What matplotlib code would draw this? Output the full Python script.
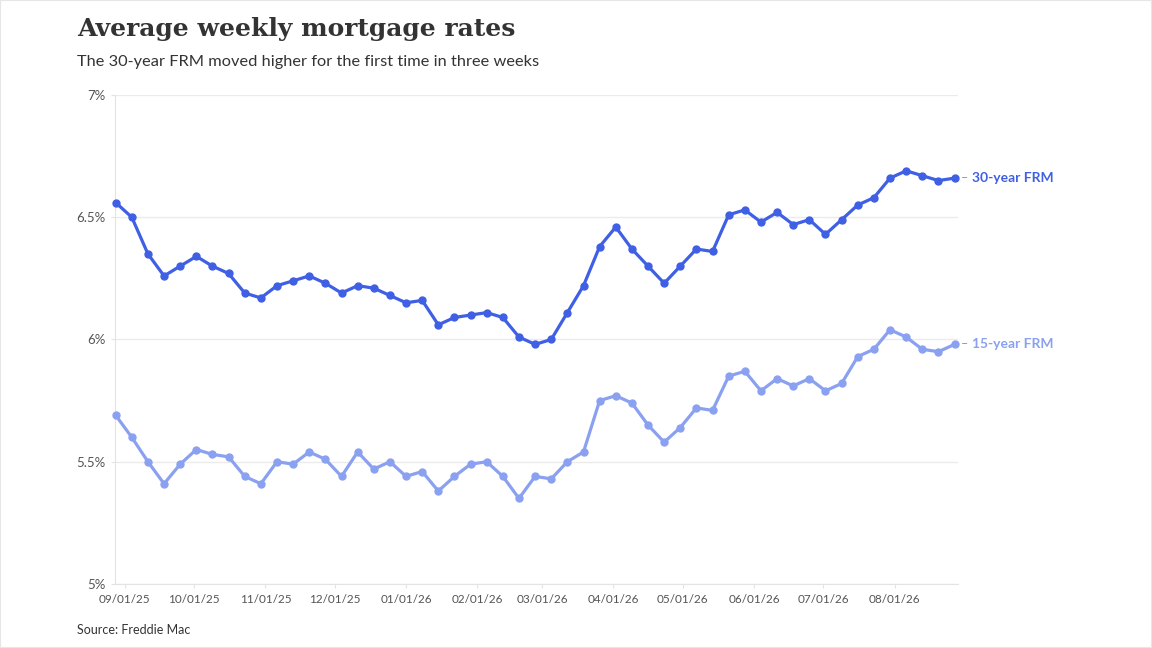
import matplotlib
matplotlib.use("Agg")
import matplotlib.pyplot as plt
import matplotlib.dates as mdates
from matplotlib.patches import Rectangle
import pandas as pd

plt.rcParams['font.family'] = ['Lato', 'DejaVu Sans']

# weekly Freddie Mac survey dates (Thursdays)
dates = pd.date_range("2025-08-28", periods=53, freq="7D")

rate_30 = [6.56, 6.50, 6.35, 6.26, 6.30, 6.34, 6.30, 6.27, 6.19, 6.17,
           6.22, 6.24, 6.26, 6.23, 6.19, 6.22, 6.21, 6.18, 6.15, 6.16,
           6.06, 6.09, 6.10, 6.11, 6.09, 6.01, 5.98, 6.00, 6.11, 6.22,
           6.38, 6.46, 6.37, 6.30, 6.23, 6.30, 6.37, 6.36, 6.51, 6.53,
           6.48, 6.52, 6.47, 6.49, 6.43, 6.49, 6.55, 6.58, 6.66, 6.69,
           6.67, 6.65, 6.66]

rate_15 = [5.69, 5.60, 5.50, 5.41, 5.49, 5.55, 5.53, 5.52, 5.44, 5.41,
           5.50, 5.49, 5.54, 5.51, 5.44, 5.54, 5.47, 5.50, 5.44, 5.46,
           5.38, 5.44, 5.49, 5.50, 5.44, 5.35, 5.44, 5.43, 5.50, 5.54,
           5.75, 5.77, 5.74, 5.65, 5.58, 5.64, 5.72, 5.71, 5.85, 5.87,
           5.79, 5.84, 5.81, 5.84, 5.79, 5.82, 5.93, 5.96, 6.04, 6.01,
           5.96, 5.95, 5.98]

series_names = ["30-year FRM", "15-year FRM"]
colors = ["#3f5fe4", "#8aa0f1"]
y_ticks = [5, 5.5, 6, 6.5, 7]
y_labels = ["5%", "5.5%", "6%", "6.5%", "7%"]

fig = plt.figure(figsize=(11.52, 6.48), dpi=100)
ax = fig.add_axes([0.0998, 0.0988, 0.7318, 0.7546])

for vals, name, c in zip([rate_30, rate_15], series_names, colors):
    ax.plot(dates, vals, color=c, lw=2.3, marker='o', ms=5, clip_on=False, zorder=3)
    ax.annotate("–", xy=(dates[-1], vals[-1]), xytext=(4.5, 0), textcoords='offset points',
                va='center', ha='left', color='#999999', fontsize=9)
    ax.annotate(name, xy=(dates[-1], vals[-1]), xytext=(12.5, 0), textcoords='offset points',
                va='center', ha='left', color=c, fontsize=10, fontweight='bold')

ax.set_ylim(5, 7)
ax.set_yticks(y_ticks)
ax.set_yticklabels(y_labels)
ax.set_xlim(dates[0] - pd.Timedelta(days=0.3), dates[-1] + pd.Timedelta(days=1.5))
ax.xaxis.set_major_locator(mdates.MonthLocator())
ax.xaxis.set_major_formatter(mdates.DateFormatter("%m/%d/%y"))

ax.grid(axis='y', color='#ebebeb', lw=1)
ax.set_axisbelow(True)
for s in ['top', 'right']:
    ax.spines[s].set_visible(False)
for s in ['left', 'bottom']:
    ax.spines[s].set_color('#e3e3e3')
ax.tick_params(axis='both', colors='#e3e3e3', labelcolor='#555555', length=3, pad=4)
ax.tick_params(axis='x', labelsize=8.5)
ax.tick_params(axis='y', labelsize=9.5)

fig.text(0.0668, 0.9444, "Average weekly mortgage rates", family=['DejaVu Serif'],
         fontweight='bold', fontsize=18, color='#333333', va='baseline')
fig.text(0.0668, 0.8986, "The 30-year FRM moved higher for the first time in three weeks",
         fontsize=11.8, color='#333333', va='baseline')
fig.text(0.0668, 0.0216, "Source: Freddie Mac", fontsize=9, color='#333333', va='baseline')

fig.patches.append(Rectangle((0, 0), 1, 1, transform=fig.transFigure, fill=False,
                             edgecolor='#e6e6e6', lw=1.5))

fig.savefig("out.png", dpi=100)
